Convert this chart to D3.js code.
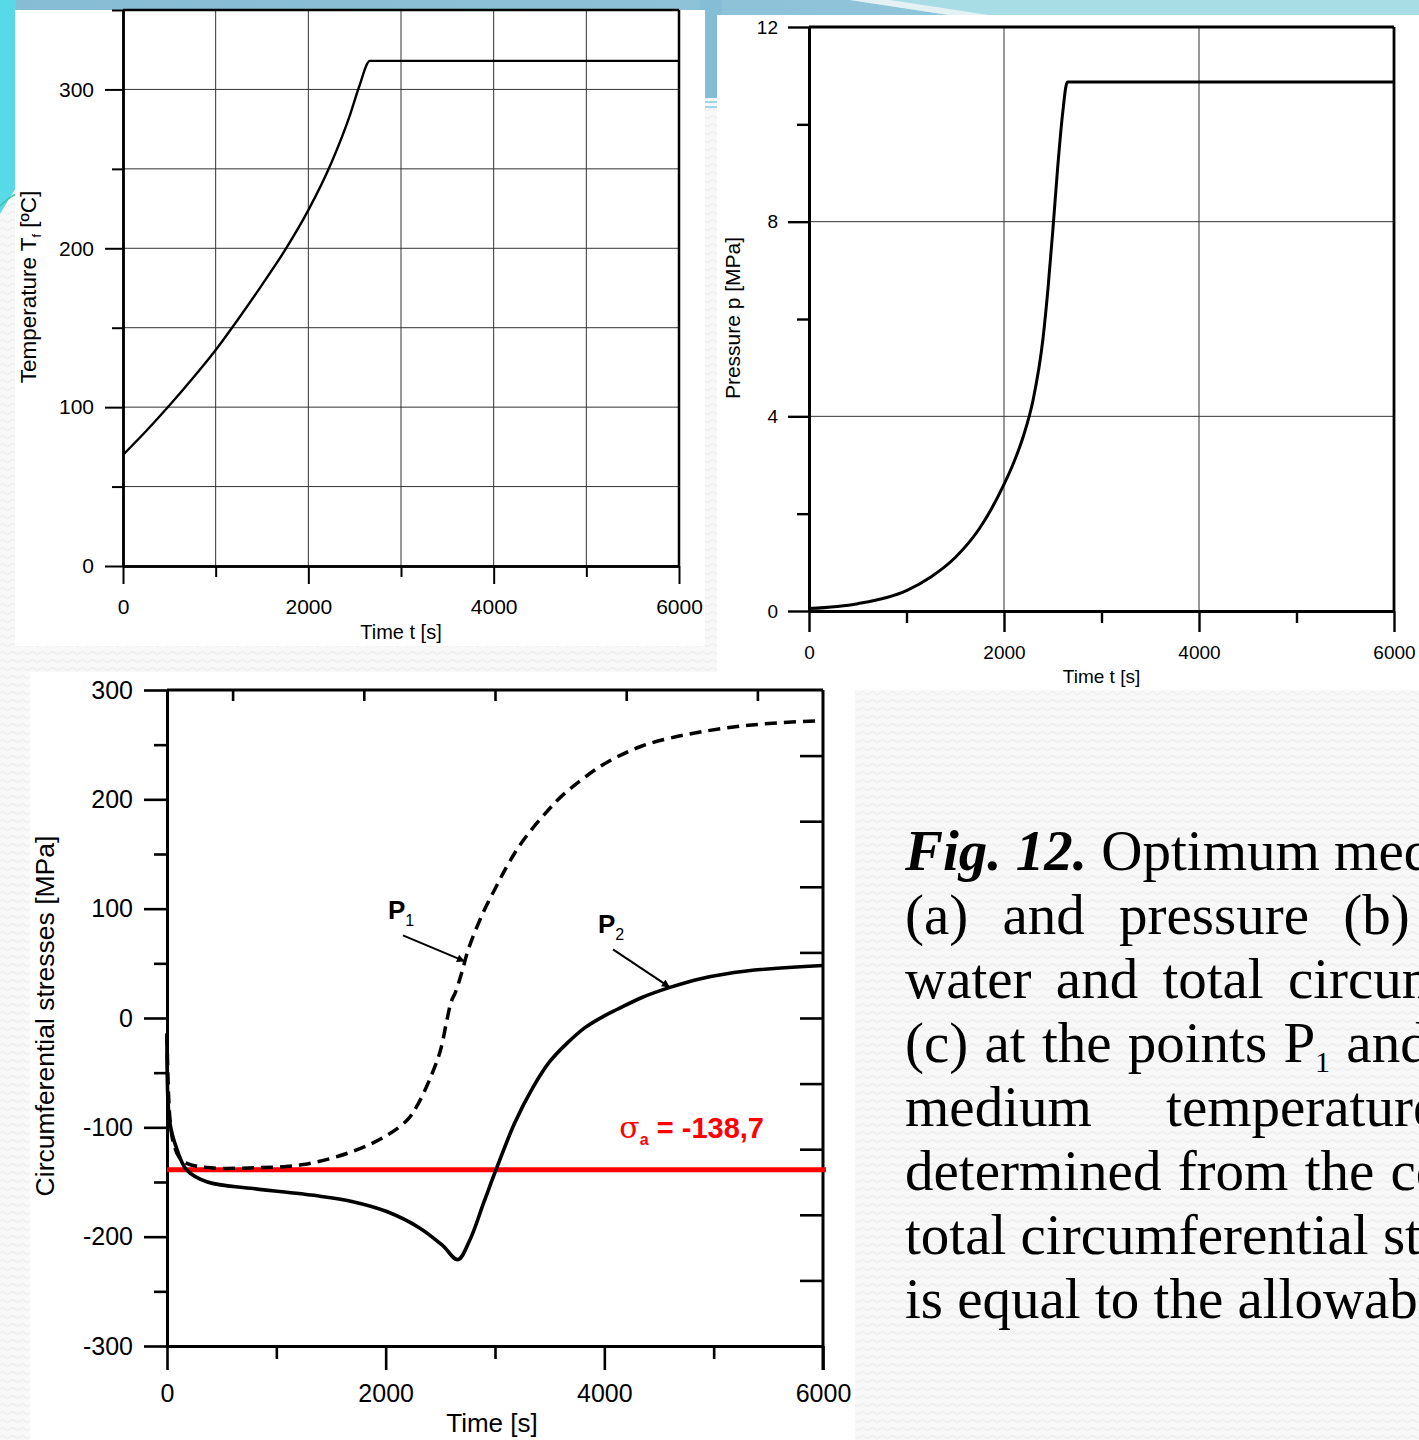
<!DOCTYPE html>
<html>
<head>
<meta charset="utf-8">
<script src="https://cdn.jsdelivr.net/npm/d3@7"></script>
<style>
  html, body { margin: 0; padding: 0; background: #f7f7f7; overflow: hidden; }
  svg { display: block; }
</style>
</head>
<body>
<svg id="slide" width="1419" height="1440"></svg>
<script>
'use strict';

// (a) medium temperature T_f [°C] vs time [s]
const tempTime  = [0, 250, 500, 750, 1000, 1250, 1500, 1750, 2000, 2250, 2450, 2550, 2665, 6000];
const tempValue = [70, 85, 101, 118, 136, 156, 177, 199, 224, 254, 284, 302, 318, 318];

// (b) pressure p [MPa] vs time [s]
const pressTime  = [0, 500, 1000, 1250, 1500, 1750, 2000, 2100, 2200, 2300, 2400, 2450, 2500, 2550, 2600, 2650, 6000];
const pressValue = [0.05, 0.15, 0.42, 0.7, 1.1, 1.7, 2.6, 3.05, 3.6, 4.35, 5.6, 6.6, 7.8, 9.1, 10.2, 10.87, 10.87];

// (c) circumferential stresses [MPa] at P1 (dashed) and P2 (solid)
const p1Time   = [0, 25, 60, 110, 180, 400, 800, 1250, 1700, 2000, 2200, 2300, 2420, 2500, 2560, 2600, 2640, 2700, 2760, 2890, 3000, 3100, 3200, 3300, 3450, 3600, 3780, 3960, 4140, 4350, 4600, 4900, 5250, 5600, 6000];
const p1Stress = [-15, -90, -115, -127, -133, -137, -137, -134, -122, -108, -93, -78, -52, -30, -2, 15, 24, 43, 64, 96, 118, 137, 154, 168, 186, 202, 217, 230, 240, 249, 256, 262, 267, 270, 272];
const p2Time   = [0, 25, 90, 180, 370, 790, 1400, 1700, 2010, 2310, 2520, 2660, 2770, 2900, 3020, 3180, 3350, 3500, 3660, 3820, 4000, 4120, 4350, 4600, 4880, 5300, 6000];
const p2Stress = [-14, -95, -120, -139, -150, -156, -163, -168, -177, -192, -208, -221, -203, -168, -136, -96, -63, -40, -23, -9, 2, 8, 19, 28, 36, 43, 48];
const sigmaA = -138.7;

// ticks
const timeMajor = [0, 2000, 4000, 6000];
const timeMinor = [1000, 3000, 5000];
const timeGrid  = [1000, 2000, 3000, 4000, 5000];
const tempMajor = [0, 100, 200, 300];
const tempMinor = [50, 150, 250, 350];
const tempGrid  = [50, 100, 150, 200, 250, 300];
const pressMajor = [0, 4, 8, 12];
const pressMinor = [2, 6, 10];
const pressGrid  = [4, 8];
const pressTimeGrid = [2000, 4000];
const stressMajor = [-300, -200, -100, 0, 100, 200, 300];
const stressMinor = [-250, -150, -50, 50, 150, 250];
const stressRight = [-240, -180, -120, -60, 0, 60, 120, 180, 240];
const timeTop     = [600, 1800, 3000, 4200, 5400];

const captionLines = [
  [{t: 'Fig. 12.', bi: true}, {t: ' Optimum medium'}],
  [{t: '(a) and pressure (b) of'}],
  [{t: 'water and total circumferential'}],
  [{t: '(c) at the points P'}, {t: '1', sub: true}, {t: ' and P2', back: true}],
  [{t: 'medium temperature'}],
  [{t: 'determined from the condition'}],
  [{t: 'total circumferential stress'}],
  [{t: 'is equal to the allowable stress'}]
];

const svg = d3.select('#slide');
const SANS = '"Liberation Sans", Arial, sans-serif';
const plain = d => String(d);

// ---------- backdrop ----------
let defs = svg.append('defs');
let pat = defs.append('pattern').attr('id', 'waves')
  .attr('width', 10).attr('height', 8).attr('patternUnits', 'userSpaceOnUse');
pat.append('rect').attr('width', 10).attr('height', 8).attr('fill', '#f8f8f8');
pat.append('path').attr('d', 'M0 5 Q2.5 2 5 5 T10 5')
  .attr('fill', 'none').attr('stroke', '#ebebeb').attr('stroke-width', 1);

defs.append('marker').attr('id', 'arrow')
  .attr('viewBox', '0 0 10 10').attr('refX', 10).attr('refY', 5)
  .attr('markerWidth', 10).attr('markerHeight', 8).attr('markerUnits', 'userSpaceOnUse')
  .attr('orient', 'auto')
  .append('path').attr('d', 'M0,0 L10,5 L0,10 Z').attr('fill', '#000');

let band = defs.append('linearGradient').attr('id', 'band').attr('x1', 0).attr('x2', 1);
band.append('stop').attr('offset', 0).attr('stop-color', '#86bcd4');
band.append('stop').attr('offset', 1).attr('stop-color', '#8fc4d9');

svg.append('rect').attr('width', 1419).attr('height', 1440).attr('fill', 'url(#waves)');
svg.append('rect').attr('width', 1419).attr('height', 16).attr('fill', '#a8dde5');
svg.append('path').attr('d', 'M0,0 H850 L955,16 H0 Z').attr('fill', 'url(#band)');
svg.append('path').attr('d', 'M850,0 H890 L995,16 H955 Z').attr('fill', '#e4f2f5');
svg.append('rect').attr('x', 700).attr('y', 0).attr('width', 22).attr('height', 98).attr('fill', '#84bdd5');
svg.append('path').attr('d', 'M0,0 H16 V188 Q8,200 0,214 Z').attr('fill', '#58d9e8');
svg.append('path').attr('d', 'M0,206 Q8,198 16,194').attr('fill', 'none').attr('stroke', '#3cc7a8').attr('stroke-width', 1.5);
svg.append('path').attr('d', 'M705,102 H720 M705,107 H720').attr('stroke', '#9fd6ea').attr('stroke-width', 2);

// white panels
svg.append('rect').attr('x', 15).attr('y', 10).attr('width', 690).attr('height', 636).attr('fill', '#fff');
svg.append('rect').attr('x', 717).attr('y', 15).attr('width', 702).attr('height', 675).attr('fill', '#fff');
svg.append('rect').attr('x', 30).attr('y', 672).attr('width', 825).attr('height', 768).attr('fill', '#fff');

// ---------- helpers ----------
function styleAxis(sel, conf){
  sel.attr('font-family', SANS).attr('font-size', conf.fontSize).attr('color', '#000');
  sel.select('.domain').attr('stroke-width', conf.axisWidth);
  sel.selectAll('.tick line').attr('stroke-width', conf.tickWidth);
}

function drawSmallChart(conf){
  let g = svg.append('g');
  let x = d3.scaleLinear().domain(conf.xDomain).range(conf.xRange);
  let y = d3.scaleLinear().domain(conf.yDomain).range(conf.yRange);

  g.append('g').selectAll('line').data(conf.xGrid).join('line')
    .attr('x1', d => x(d)).attr('x2', d => x(d))
    .attr('y1', conf.yRange[0]).attr('y2', conf.yRange[1])
    .attr('stroke', '#333').attr('stroke-width', 1);
  g.append('g').selectAll('line').data(conf.yGrid).join('line')
    .attr('x1', conf.xRange[0]).attr('x2', conf.xRange[1])
    .attr('y1', d => y(d)).attr('y2', d => y(d))
    .attr('stroke', '#333').attr('stroke-width', 1);

  // frame: top and right
  g.append('line').attr('x1', conf.xRange[0]).attr('x2', conf.xRange[1])
    .attr('y1', conf.yRange[1]).attr('y2', conf.yRange[1])
    .attr('stroke', '#000').attr('stroke-width', conf.axisWidth);
  g.append('line').attr('x1', conf.xRange[1]).attr('x2', conf.xRange[1])
    .attr('y1', conf.yRange[1]).attr('y2', conf.yRange[0])
    .attr('stroke', '#000').attr('stroke-width', conf.axisWidth);

  let bottom = g.append('g').attr('transform', 'translate(0,' + conf.yRange[0] + ')');
  bottom.append('g').call(d3.axisBottom(x).tickValues(conf.xMajor).tickSize(conf.major)
      .tickSizeOuter(0).tickPadding(conf.padX).tickFormat(plain))
    .call(styleAxis, conf);
  bottom.append('g').call(d3.axisBottom(x).tickValues(conf.xMinor).tickSize(conf.minor)
      .tickSizeOuter(0).tickFormat(''))
    .call(styleAxis, conf);

  let left = g.append('g').attr('transform', 'translate(' + conf.xRange[0] + ',0)');
  left.append('g').call(d3.axisLeft(y).tickValues(conf.yMajor).tickSize(conf.major)
      .tickSizeOuter(0).tickPadding(conf.padY).tickFormat(plain))
    .call(styleAxis, conf);
  left.append('g').call(d3.axisLeft(y).tickValues(conf.yMinor).tickSize(conf.minor)
      .tickSizeOuter(0).tickFormat(''))
    .call(styleAxis, conf);

  let line = d3.line().x(d => x(d[0])).y(d => y(d[1])).curve(d3.curveMonotoneX);
  g.append('path').datum(d3.zip(conf.time, conf.value))
    .attr('d', line).attr('fill', 'none').attr('stroke', '#000')
    .attr('stroke-width', conf.lineWidth).attr('stroke-linejoin', 'round');

  g.append('text')
    .attr('x', (conf.xRange[0] + conf.xRange[1]) / 2).attr('y', conf.xTitleY)
    .attr('text-anchor', 'middle').attr('font-family', SANS).attr('font-size', conf.titleSize)
    .text(conf.xTitle);

  let yt = g.append('text')
    .attr('transform', 'translate(' + conf.yTitleX + ',' + conf.yTitleY + ') rotate(-90)')
    .attr('text-anchor', 'middle').attr('font-family', SANS).attr('font-size', conf.yTitleSize);
  conf.yTitle.forEach(function(part){
    let ts = yt.append('tspan').text(part.t);
    if(part.sub){ ts.attr('font-size', conf.yTitleSize * 0.55).attr('dy', 5); }
    if(part.back){ ts.attr('dy', -5); }
  });
  return {x: x, y: y};
}

// ---------- (a) temperature ----------
drawSmallChart({
  xDomain: [0, 6000], xRange: [123, 679],
  yDomain: [0, 350], yRange: [566, 10],
  xGrid: timeGrid, yGrid: tempGrid,
  xMajor: timeMajor, xMinor: timeMinor,
  yMajor: tempMajor, yMinor: tempMinor,
  major: 18, minor: 11, padX: 15, padY: 11,
  fontSize: 21, titleSize: 20, yTitleSize: 22.5, axisWidth: 2.5, tickWidth: 2, lineWidth: 2.4,
  time: tempTime, value: tempValue,
  xTitle: 'Time t [s]', xTitleY: 639,
  yTitle: [{t: 'Temperature T'}, {t: 'f', sub: true}, {t: ' [\u00BAC]', back: true}],
  yTitleX: 36, yTitleY: 287
});

// ---------- (b) pressure ----------
drawSmallChart({
  xDomain: [0, 6000], xRange: [809, 1394],
  yDomain: [0, 12], yRange: [611, 27],
  xGrid: pressTimeGrid, yGrid: pressGrid,
  xMajor: timeMajor, xMinor: timeMinor,
  yMajor: pressMajor, yMinor: pressMinor,
  major: 21, minor: 12, padX: 14, padY: 10,
  fontSize: 19, titleSize: 19, yTitleSize: 21, axisWidth: 2.8, tickWidth: 2.4, lineWidth: 3,
  time: pressTime, value: pressValue,
  xTitle: 'Time t [s]', xTitleY: 683,
  yTitle: [{t: 'Pressure p [MPa]'}],
  yTitleX: 740, yTitleY: 318
});

// ---------- (c) circumferential stresses ----------
(function(){
  let g = svg.append('g');
  let x = d3.scaleLinear().domain([0, 6000]).range([167, 823]);
  let y = d3.scaleLinear().domain([-300, 300]).range([1346, 690]);
  let conf = {fontSize: 25, axisWidth: 3, tickWidth: 2.6};

  g.append('line').attr('x1', 167).attr('x2', 823).attr('y1', 690).attr('y2', 690)
    .attr('stroke', '#000').attr('stroke-width', 3);
  g.append('line').attr('x1', 823).attr('x2', 823).attr('y1', 690).attr('y2', 1370)
    .attr('stroke', '#000').attr('stroke-width', 3);

  let bottom = g.append('g').attr('transform', 'translate(0,1346)');
  bottom.append('g').call(d3.axisBottom(x).tickValues(timeMajor).tickSize(24)
      .tickSizeOuter(0).tickPadding(14).tickFormat(plain))
    .call(styleAxis, conf);
  bottom.append('g').call(d3.axisBottom(x).tickValues(timeMinor).tickSize(13)
      .tickSizeOuter(0).tickFormat(''))
    .call(styleAxis, conf);

  let top = g.append('g').attr('transform', 'translate(0,690)');
  top.call(d3.axisBottom(x).tickValues(timeTop).tickSize(11).tickSizeOuter(0).tickFormat(''))
    .call(styleAxis, conf);
  top.select('.domain').remove();

  let right = g.append('g').attr('transform', 'translate(823,0)');
  right.call(d3.axisLeft(y).tickValues(stressRight).tickSize(23).tickSizeOuter(0).tickFormat(''))
    .call(styleAxis, conf);
  right.select('.domain').remove();

  let left = g.append('g').attr('transform', 'translate(167,0)');
  left.append('g').call(d3.axisLeft(y).tickValues(stressMajor).tickSize(23)
      .tickSizeOuter(0).tickPadding(11).tickFormat(plain))
    .call(styleAxis, conf);
  left.append('g').call(d3.axisLeft(y).tickValues(stressMinor).tickSize(13)
      .tickSizeOuter(0).tickFormat(''))
    .call(styleAxis, conf);

  // allowable stress
  g.append('line').attr('x1', 167).attr('x2', 826)
    .attr('y1', y(sigmaA)).attr('y2', y(sigmaA))
    .attr('stroke', '#ff0000').attr('stroke-width', 5);

  let line = d3.line().x(d => x(d[0])).y(d => y(d[1])).curve(d3.curveCatmullRom.alpha(0.5));
  g.append('path').datum(d3.zip(p1Time, p1Stress))
    .attr('d', line).attr('fill', 'none').attr('stroke', '#000')
    .attr('stroke-width', 3.5).attr('stroke-dasharray', '12,7');
  g.append('path').datum(d3.zip(p2Time, p2Stress))
    .attr('d', line).attr('fill', 'none').attr('stroke', '#000')
    .attr('stroke-width', 3.6).attr('stroke-linejoin', 'round');

  // annotations
  function pointer(t, times, series, dx, dy, label){
    let at = d3.scaleLinear().domain(times).range(series);
    let px = x(t), py = y(at(t));
    g.append('line').attr('x1', px + dx).attr('y1', py + dy)
      .attr('x2', px).attr('y2', py)
      .attr('stroke', '#000').attr('stroke-width', 2).attr('marker-end', 'url(#arrow)');
    let lt = g.append('text').attr('x', px + dx - 15).attr('y', py + dy - 16)
      .attr('font-family', SANS).attr('font-size', 26).attr('font-weight', 'bold');
    lt.append('tspan').text('P');
    lt.append('tspan').attr('font-size', 16).attr('font-weight', 'normal').attr('dy', 7).text(label);
  }
  pointer(2725, p1Time, p1Stress, -62, -26, '1');
  pointer(4600, p2Time, p2Stress, -57, -38, '2');

  let red = g.append('text').attr('x', 764).attr('y', y(sigmaA) - 32)
    .attr('text-anchor', 'end').attr('fill', '#ff0000')
    .attr('font-family', SANS).attr('font-size', 29).attr('font-weight', 'bold');
  red.append('tspan').attr('font-family', '"DejaVu Serif", serif').attr('font-weight', 'normal').attr('font-size', 30).text('\u03C3');
  red.append('tspan').attr('font-size', 16).attr('dy', 7).text('a');
  red.append('tspan').attr('dy', -7).text(' = -138,7');

  g.append('text').attr('x', 492).attr('y', 1432).attr('text-anchor', 'middle')
    .attr('font-family', SANS).attr('font-size', 26).text('Time [s]');
  g.append('text').attr('transform', 'translate(54,1016) rotate(-90)')
    .attr('text-anchor', 'middle').attr('font-family', SANS).attr('font-size', 26.5)
    .text('Circumferential stresses [MPa]');
})();

// ---------- caption ----------
const wordGaps = [0, 20, 10, 2, 60, 2, 0, 0];
let cap = svg.append('g').attr('font-family', '"Liberation Serif", "Times New Roman", serif')
  .attr('font-size', 57).attr('fill', '#000');
captionLines.forEach(function(parts, i){
  let t = cap.append('text').attr('x', 905).attr('y', 870 + i * 64)
    .style('word-spacing', wordGaps[i] + 'px');
  parts.forEach(function(p){
    let ts = t.append('tspan').text(p.t);
    if(p.bi){ ts.attr('font-weight', 'bold').attr('font-style', 'italic'); }
    if(p.sub){ ts.attr('font-size', 30).attr('dy', 10); }
    if(p.back){ ts.attr('dy', -10); }
  });
});
</script>
</body>
</html>
